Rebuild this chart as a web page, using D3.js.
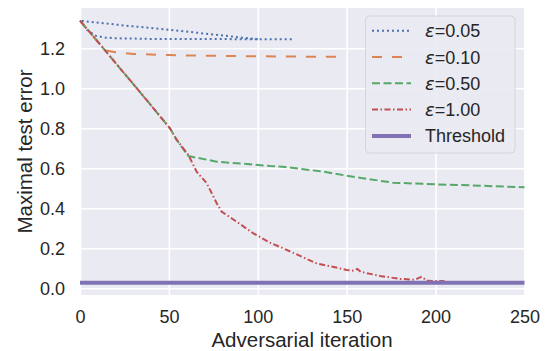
<!DOCTYPE html>
<html><head><meta charset="utf-8">
<script src="https://cdn.jsdelivr.net/npm/d3@7"></script>
<style>body{margin:0;background:#fff}svg{display:block}text{font-family:"Liberation Sans",Arial,sans-serif;fill:#262626}</style>
</head><body>
<svg id="c" width="548" height="351"></svg>
<script>
// ---- data ----
const xTicks = [0, 50, 100, 150, 200, 250];
const yTicks = [0.0, 0.2, 0.4, 0.6, 0.8, 1.0, 1.2];
const seriesNames = ["=0.05", "=0.10", "=0.50", "=1.00", "Threshold"];

const eps005Iter = [100, 75, 50, 25, 0, 4, 9, 14, 20, 40, 80, 120];
const eps005Val  = [1.245, 1.269, 1.293, 1.314, 1.338, 1.292, 1.262, 1.254, 1.25, 1.247, 1.246, 1.245];

const eps010Iter = [0, 14, 20, 30, 50, 70, 100, 130, 147];
const eps010Val  = [1.338, 1.19, 1.18, 1.172, 1.166, 1.163, 1.16, 1.158, 1.158];

const eps050Iter = [0, 9.4, 22.5, 32, 50.6, 54.4, 61, 77, 95.6, 107, 114, 137, 150, 176, 200, 225, 250];
const eps050Val  = [1.338, 1.24, 1.10, 1.0, 0.80, 0.742, 0.661, 0.633, 0.62, 0.611, 0.608, 0.583, 0.563, 0.528, 0.52, 0.513, 0.505];

const eps100Iter = [0, 9.4, 22.5, 32, 50.6, 54.4, 61, 65.6, 71.3, 76.9, 79.7, 88.1, 97.5, 106.9, 114.3, 133, 150, 154, 156, 158, 168.7, 180, 188.4, 192.2, 195, 200.6, 205];
const eps100Val  = [1.338, 1.24, 1.10, 1.0, 0.80, 0.742, 0.666, 0.583, 0.525, 0.425, 0.383, 0.333, 0.275, 0.228, 0.20, 0.125, 0.092, 0.088, 0.097, 0.082, 0.062, 0.047, 0.043, 0.058, 0.038, 0.036, 0.036];

const thresholdIter = [0, 250];
const thresholdVal  = [0.028, 0.028];

// ---- chart ----
const svg = d3.select("#c");
const x = d3.scaleLinear().domain([0, 250]).range([80, 524.5]);
const y = d3.scaleLinear().domain([-0.0335, 1.4015]).range([295, 8]);

svg.append("rect").attr("x", 80).attr("y", 8).attr("width", 444.5).attr("height", 287).attr("fill", "#eaeaf2");

const gx = svg.append("g").attr("transform", "translate(0,295)")
  .call(d3.axisBottom(x).tickValues(xTicks).tickSize(-287).tickPadding(15).tickFormat(d3.format("d")));
const gy = svg.append("g").attr("transform", "translate(80,0)")
  .call(d3.axisLeft(y).tickValues(yTicks).tickSize(-444.5).tickPadding(15).tickFormat(d3.format(".1f")));
[gx, gy].forEach(g => {
  g.select(".domain").remove();
  g.selectAll(".tick line").attr("stroke", "#fff").attr("stroke-width", 1.6);
  g.selectAll(".tick text").attr("font-size", 18).attr("fill", "#262626")
    .attr("font-family", '"Liberation Sans",Arial,sans-serif');
});

const colors = ["#4c72b0", "#dd8452", "#55a868", "#c44e52", "#8172b3"];
const dashes = ["2,3", "10,10", "8,3.5", "6,2.5,1.5,2.5", null];
const widths = [2, 2, 2, 2, 4];
const data = [
  [eps005Iter, eps005Val], [eps010Iter, eps010Val], [eps050Iter, eps050Val],
  [eps100Iter, eps100Val], [thresholdIter, thresholdVal]
];
const line = d3.line().x(d => x(d[0])).y(d => y(d[1]));
data.forEach((s, i) => {
  const pts = s[0].map((v, j) => [v, s[1][j]]);
  svg.append("path").attr("d", line(pts)).attr("fill", "none")
    .attr("stroke", colors[i]).attr("stroke-width", widths[i])
    .attr("stroke-dasharray", dashes[i]);
});

// axis labels
svg.append("text").attr("x", 302).attr("y", 347).attr("text-anchor", "middle")
  .attr("font-size", 20.5).text("Adversarial iteration");
svg.append("text").attr("transform", "translate(31.5,151.5) rotate(-90)").attr("text-anchor", "middle")
  .attr("font-size", 20.5).text("Maximal test error");

// legend
const lg = svg.append("g");
lg.append("rect").attr("x", 365.5).attr("y", 16).attr("width", 149.5).attr("height", 137)
  .attr("rx", 4).attr("fill", "#eaeaf2").attr("fill-opacity", 0.9).attr("stroke", "#d4d4dc").attr("stroke-width", 1);
const ly0 = 30.7, ldy = 26.3;
seriesNames.forEach((nm, i) => {
  const yy = ly0 + i * ldy;
  lg.append("line").attr("x1", 372).attr("x2", 411).attr("y1", yy).attr("y2", yy)
    .attr("stroke", colors[i]).attr("stroke-width", widths[i]).attr("stroke-dasharray", dashes[i]);
  const t = lg.append("text").attr("x", 425).attr("y", yy + 6.5).attr("font-size", 18);
  if (i < 4) {
    t.append("tspan").attr("font-style", "italic").attr("font-family", '"DejaVu Sans",sans-serif').text("ε");
    t.append("tspan").text(nm);
  } else {
    t.text(nm);
  }
});
</script>
</body></html>
